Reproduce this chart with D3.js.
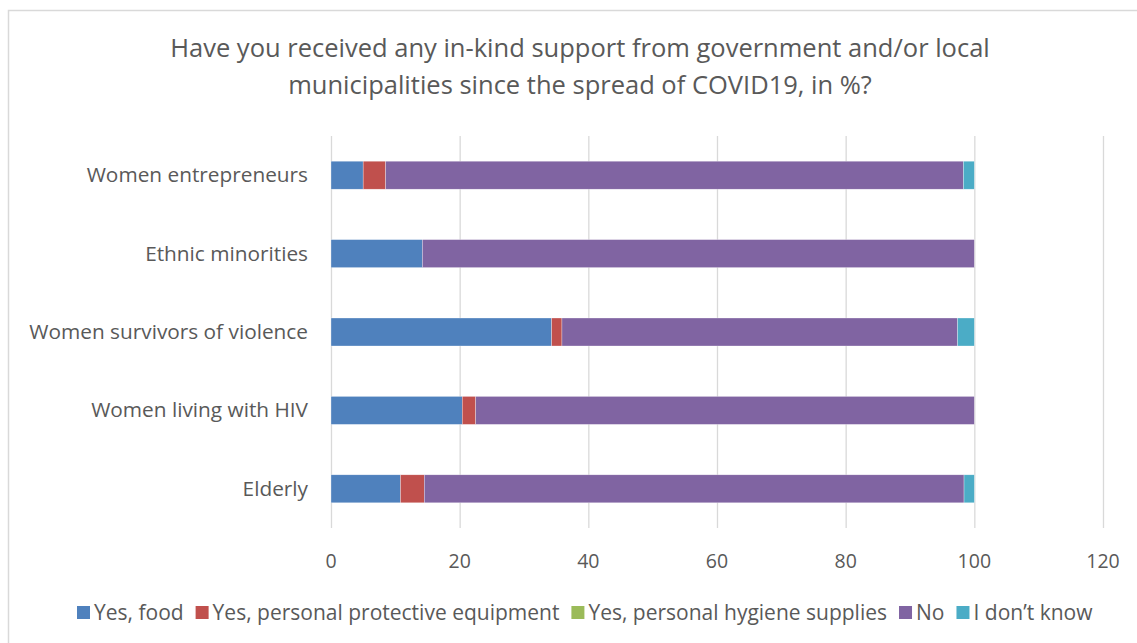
<!DOCTYPE html>
<html>
<head>
<meta charset="utf-8">
<script src="https://cdn.jsdelivr.net/npm/d3@7"></script>
<style>
  body { margin: 0; background: #fff; }
  text { font-family: "Open Sans", sans-serif; fill: #595959; }
</style>
</head>
<body>
<script>
const categories = ["Women entrepreneurs", "Ethnic minorities", "Women survivors of violence", "Women living with HIV", "Elderly"];
const seriesNames = ["Yes, food", "Yes, personal protective equipment", "Yes, personal hygiene supplies", "No", "I don\u2019t know"];
const food = [5.0, 14.2, 34.3, 20.4, 10.8];
const ppe = [3.5, 0, 1.6, 2.1, 3.7];
const hygiene = [0, 0, 0, 0, 0];
const no = [89.8, 85.8, 61.5, 77.5, 83.9];
const dontKnow = [1.7, 0, 2.6, 0, 1.6];
const xTicks = [0, 20, 40, 60, 80, 100, 120];
const colors = ["#4f81bd", "#c0504d", "#9bbb59", "#8064a2", "#4bacc6"];

const W = 1137, H = 643;
const svg = d3.select("body").append("svg").attr("width", W).attr("height", H);

// chart border
svg.append("rect").attr("x", 8.5).attr("y", 10.5).attr("width", W + 10).attr("height", H + 10)
  .attr("fill", "#fff").attr("stroke", "#d9d9d9").attr("stroke-width", 1.5);

// title
const title = svg.append("text").attr("text-anchor", "middle").style("font-size", "25.5px");
title.append("tspan").attr("x", 580).attr("y", 57).text("Have you received any in-kind support from government and/or local");
title.append("tspan").attr("x", 580).attr("y", 94).text("municipalities since the spread of COVID19, in %?");

const x = d3.scaleLinear().domain([0, 120]).range([331, 1103]);
const y = d3.scaleBand().domain(categories).range([136, 528]).paddingInner(0.643).paddingOuter(0.3215);

// gridlines
svg.append("g").selectAll("line").data(xTicks).join("line")
  .attr("x1", d => x(d) + 0.5).attr("x2", d => x(d) + 0.5)
  .attr("y1", 136).attr("y2", 528)
  .attr("stroke", "#d9d9d9").attr("stroke-width", 1.3);

// x tick labels
svg.append("g").selectAll("text").data(xTicks).join("text")
  .attr("x", d => x(d)).attr("y", 568)
  .attr("text-anchor", "middle").style("font-size", "19.5px").text(d => d);

// category labels
svg.append("g").selectAll("text").data(categories).join("text")
  .attr("x", 308).attr("y", d => y(d) + y.bandwidth() / 2 + 7)
  .attr("text-anchor", "end").style("font-size", "20.8px").text(d => d);

// stacked bars
const table = categories.map((c, i) => ({ cat: c, s0: food[i], s1: ppe[i], s2: hygiene[i], s3: no[i], s4: dontKnow[i] }));
const stack = d3.stack().keys(["s0", "s1", "s2", "s3", "s4"])(table);

svg.append("g").selectAll("g").data(stack).join("g")
  .attr("fill", (d, i) => colors[i])
  .selectAll("rect").data(d => d).join("rect")
  .attr("x", d => x(d[0]))
  .attr("width", d => x(d[1]) - x(d[0]))
  .attr("y", d => y(d.data.cat))
  .attr("height", y.bandwidth())
  .attr("stroke", "#fff").attr("stroke-width", 0.5).attr("stroke-opacity", 0.6);

// legend
const legend = svg.append("g");
let lx = 77;
seriesNames.forEach((name, i) => {
  legend.append("rect").attr("x", lx).attr("y", 606).attr("width", 13).attr("height", 13).attr("fill", colors[i]);
  const t = legend.append("text").attr("x", lx + 17).attr("y", 620).style("font-size", "21px").text(name);
  lx += 17 + t.node().getComputedTextLength() + 12;
});
</script>
</body>
</html>
